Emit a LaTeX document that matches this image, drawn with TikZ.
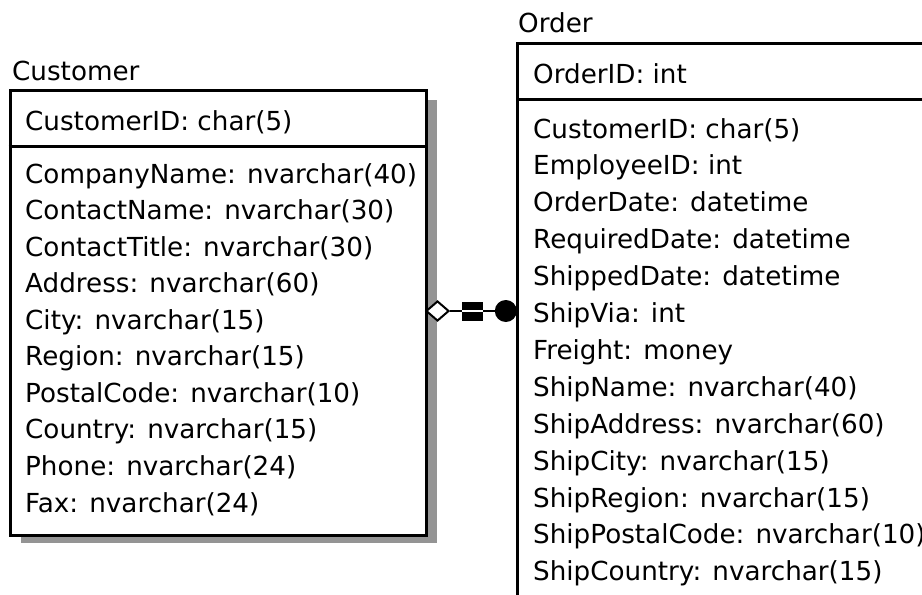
\documentclass[tikz,border=0pt]{standalone}
\usepackage{fontspec}
\setmainfont{DejaVu Sans}
\usetikzlibrary{shapes.geometric}
\begin{document}
\begin{tikzpicture}[x=1pt,y=-1pt,
  field/.style={anchor=base west, inner sep=0pt, font=\fontsize{26.2pt}{30pt}\selectfont},
  frame/.style={line width=3pt},
  shade/.style={fill=black!42},
  fk/.style={line width=1.5pt},
  bar/.style={fill=black, inner sep=0pt, minimum width=21pt, minimum height=8.5pt},
]
\useasboundingbox[fill=white] (0,0) rectangle (922,595);

% ---------- Customer table ----------
\fill[shade] (21,100) rectangle (437,543);
\node[draw, frame, fill=white, anchor=north west, inner sep=0pt,
      minimum width=416.5pt, minimum height=445.5pt] (customer) at (8.5,88.5) {};
\draw[frame] (8.5,146.5) -- (425,146.5);
\node[field] (custtitle) at (12,80) {Customer};
\node[field] (custkey) at (25,130) {CustomerID: char(5)};
\foreach \txt [count=\i from 0] in {
  {CompanyName: nvarchar(40)}, {ContactName: nvarchar(30)},
  {ContactTitle: nvarchar(30)}, {Address: nvarchar(60)},
  {City: nvarchar(15)}, {Region: nvarchar(15)},
  {PostalCode: nvarchar(10)}, {Country: nvarchar(15)},
  {Phone: nvarchar(24)}, {Fax: nvarchar(24)}}
  \node[field] (cust\i) at (25,{183+\i*36.56}) {\txt};

% ---------- Order table (runs past the right and bottom edges) ----------
\draw[frame] (517,597) -- (517,43.5) -- (924,43.5);
\draw[frame] (517,99) -- (924,99);
\node[field] (ordtitle) at (518,32) {Order};
\node[field] (ordkey) at (533,83) {OrderID: int};
\foreach \txt [count=\i from 0] in {
  {CustomerID: char(5)}, {EmployeeID: int},
  {OrderDate: datetime}, {RequiredDate: datetime},
  {ShippedDate: datetime}, {ShipVia: int},
  {Freight: money}, {ShipName: nvarchar(40)},
  {ShipAddress: nvarchar(60)}, {ShipCity: nvarchar(15)},
  {ShipRegion: nvarchar(15)}, {ShipPostalCode: nvarchar(10)},
  {ShipCountry: nvarchar(15)}}
  \node[field] (ord\i) at (533,{138+\i*36.9}) {\txt};

% ---------- relationship Customer 1 -- * Order ----------
\coordinate (custport) at (425,311);
\coordinate (ordport) at (517,311);
\node[draw, fill=white, shape=diamond, line width=2pt, inner sep=0pt,
      minimum width=23pt, minimum height=20pt, anchor=west] (agg) at (custport) {};
\node[fill=black, circle, inner sep=0pt, minimum size=22pt, anchor=east] (many) at (ordport) {};
\draw[fk] (agg.east) -- (many.west);
\node[bar] (barA) at (472.5,306) {};
\node[bar] (barB) at (472.5,316.5) {};
\fill[white] (barA.south west) rectangle (barB.north east);
\end{tikzpicture}
\end{document}
